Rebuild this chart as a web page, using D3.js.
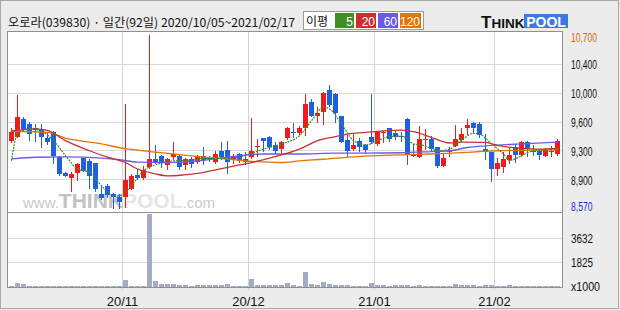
<!DOCTYPE html>
<html><head><meta charset="utf-8">
<script src="https://cdn.jsdelivr.net/npm/d3@7"></script>
<style>body{margin:0;background:#ececec;}svg{display:block}</style>
</head><body><svg id="c" width="620" height="310"></svg>
<script>
const title = "오로라(039830) · 일간(92일) 2020/10/05~2021/02/17";
const legendLabel = "이평";
const maPeriods = ["5","20","60","120"];
const monthIdx = [19, 40, 61, 81];
const monthLabels = ["20/11","20/12","21/01","21/02"];
const priceMin = 8570, priceMax = 10700;
const priceTickLabels = ["10,700","10,400","10,000","9,600","9,300","8,900","8,570"];
const volTickValues = [3632, 1825];
const volUnit = "x1000";

const opens  = [9400,9450,9670,9610,9550,9540,9430,9500,9200,9000,8940,9000,9190,9150,9120,8740,8840,8740,8710,8710,
  8810,8980,8940,9080,9170,9210,9100,9200,9210,9100,9170,9140,9210,9195,9140,9275,9285,9165,9235,9175,
  9195,9315,9430,9450,9345,9295,9430,9510,9495,9555,9870,9705,9750,10020,9970,9700,9405,9295,9400,9345,
  9450,9360,9495,9550,9495,9460,9665,9235,9200,9410,9420,9315,9090,9260,9335,9405,9555,9615,9605,9295,
  9255,9050,9070,9165,9315,9220,9385,9275,9275,9215,9255,9235];
const highs  = [9550,9960,9690,9630,9600,9600,9490,9520,9210,9010,9010,9130,9190,9170,9130,8840,8860,8760,8740,9850,
  8990,9050,9090,10700,9340,9220,9190,9380,9220,9190,9200,9220,9320,9215,9275,9380,9400,9235,9245,9255,
  9675,9420,9430,9460,9380,9400,9565,9615,9585,9975,9910,9810,9995,10080,9980,9705,9480,9480,9430,9360,
  9975,9520,9520,9560,9520,9500,9675,9360,9585,9540,9460,9325,9245,9315,9590,9550,9665,9625,9633,9480,
  9265,9180,9255,9305,9340,9400,9400,9345,9290,9305,9335,9420];
const lows   = [9380,9440,9520,9410,9390,9320,9360,9130,8980,8960,8780,8910,9020,8820,8780,8680,8700,8570,8570,8580,
  8800,8930,8930,9060,9120,9080,9050,9170,9050,9050,9080,9130,9110,9150,9130,9175,9000,9130,9140,9110,
  9190,9215,9275,9300,9245,9260,9420,9440,9480,9470,9700,9625,9610,9830,9630,9380,9195,9290,9275,9265,
  9370,9350,9380,9400,9420,9400,9110,9205,9195,9295,9290,9070,9085,9215,9330,9400,9480,9500,9440,9175,
  8905,8980,9015,9130,9140,9205,9215,9220,9175,9205,9215,9220];
const closes = [9500,9690,9540,9480,9530,9440,9380,9210,8990,8970,8990,9110,9030,8970,8800,8690,8730,8700,8640,8910,
  8970,8940,9040,9170,9130,9130,9170,9240,9080,9170,9110,9210,9165,9175,9235,9195,9140,9205,9150,9140,
  9275,9335,9400,9315,9275,9385,9550,9500,9550,9850,9705,9735,9985,9840,9735,9385,9275,9345,9315,9290,
  9380,9510,9510,9420,9450,9440,9220,9215,9420,9420,9295,9090,9180,9270,9420,9480,9590,9555,9470,9255,
  9050,9125,9175,9220,9220,9385,9305,9255,9220,9295,9275,9400];
const volumes = [100,320,200,80,80,80,80,80,80,80,80,80,80,80,80,80,80,80,80,540,
  80,80,80,5420,415,245,245,245,170,170,100,170,170,120,170,170,245,100,100,100,
  610,170,170,170,170,170,320,170,100,1080,245,170,390,245,170,170,170,100,100,100,
  320,170,170,100,170,170,170,100,170,100,100,100,100,100,245,170,170,170,100,170,
  170,100,100,170,100,100,100,100,100,100,100,100];

// moving averages: [day index, value]
const ma5 = [[0,9150],[1,9480],[3,9545],[5,9515],[7,9400],[9,9215],[11,9050],[13,9010],[15,8845],[17,8720],[18,8720],
  [20,8845],[22,9030],[24,9100],[27,9150],[29,9155],[31,9175],[34,9180],[37,9185],[39,9220],[42,9295],[45,9360],
  [48,9460],[50,9645],[52,9810],[53,9790],[55,9605],[57,9400],[59,9345],[61,9400],[63,9450],[65,9455],[67,9360],
  [69,9335],[71,9275],[73,9295],[75,9405],[77,9490],[78,9480],[80,9360],[82,9235],[83,9155],[85,9215],[87,9275],
  [89,9285],[91,9295]];
const ma20 = [[0,9520],[4,9545],[6,9525],[9,9400],[13,9275],[16,9195],[19,9130],[21,9050],[24,8990],[26,8965],
  [29,8980],[31,8995],[34,9040],[37,9085],[40,9130],[43,9185],[46,9245],[48,9295],[51,9400],[54,9450],[56,9480],
  [59,9500],[62,9520],[65,9530],[67,9510],[70,9440],[73,9370],[75,9380],[79,9378],[81,9340],[85,9305],[88,9295],[91,9305]];
const ma60 = [[0,9175],[4,9195],[9,9200],[15,9185],[18,9165],[21,9135],[26,9130],[31,9150],[37,9205],[42,9235],
  [48,9235],[54,9245],[59,9245],[65,9250],[70,9265],[73,9275],[76,9315],[79,9335],[85,9360],[91,9380]];
const ma120 = [[0,9515],[6,9500],[9,9430],[15,9360],[19,9300],[23,9265],[27,9235],[31,9205],[37,9165],[40,9145],
  [45,9130],[48,9150],[52,9170],[57,9200],[61,9215],[65,9225],[70,9235],[76,9255],[81,9275],[91,9285]];

const maColors = ["#3f8f22","#c83030","#6a5be0","#e27400"];
const upColor = "#f01c1c", downColor = "#1f5fe3", volColor = "#a3abc5";

const svg = d3.select("#c");
const N = closes.length;
const x = d3.scaleLinear().domain([0, N]).range([9, 561]);
const y = d3.scaleLinear().domain([priceMin, priceMax]).range([208, 35]);
const yv = d3.scaleLinear().domain([0, volTickValues[0]]).range([287, 238]);

// outer frame
svg.append("rect").attr("x",0.5).attr("y",0.5).attr("width",618).attr("height",308)
  .attr("fill","#ececec").attr("stroke","#a9a9a9");

// plot background
svg.append("rect").attr("x",7.5).attr("y",31.5).attr("width",555).attr("height",256)
  .attr("fill","#ffffff").attr("stroke","none");

const grid = svg.append("g").attr("shape-rendering","crispEdges");
const priceTicks = d3.range(7).map(k => priceMax - k*(priceMax-priceMin)/6);
priceTicks.slice(1,6).forEach(v => {
  grid.append("line").attr("x1",8).attr("x2",562).attr("y1",Math.round(y(v))+0.5).attr("y2",Math.round(y(v))+0.5)
    .attr("stroke","#d9d9d9");
});
volTickValues.forEach(v => {
  grid.append("line").attr("x1",8).attr("x2",562).attr("y1",Math.round(yv(v))+0.5).attr("y2",Math.round(yv(v))+0.5)
    .attr("stroke","#d9d9d9");
});
monthIdx.forEach(i => {
  grid.append("line").attr("x1",x(i)-0.5).attr("x2",x(i)-0.5).attr("y1",32).attr("y2",290).attr("stroke","#d4d4d4");
});

// watermark
const wm = svg.append("text").attr("x",23).attr("y",208).attr("font-family","Liberation Sans, Arial, sans-serif");
wm.append("tspan").attr("font-size",15).attr("fill","#cacaca").text("www.");
wm.append("tspan").attr("font-size",21).attr("font-weight","bold").attr("fill","#c2c2c2").text("THINK");
wm.append("tspan").attr("font-size",21).attr("font-weight","bold").attr("fill","#e6e6e6").text("POOL");
wm.append("tspan").attr("font-size",15).attr("fill","#cacaca").text(".com");

// candles
const cg = svg.append("g").attr("shape-rendering","crispEdges");
d3.range(N).forEach(i => {
  const up = closes[i] >= opens[i];
  const col = up ? upColor : downColor;
  cg.append("line").attr("x1",x(i)+2.5).attr("x2",x(i)+2.5)
    .attr("y1",Math.round(y(highs[i]))).attr("y2",Math.round(y(lows[i]))+1).attr("stroke",col);
  const t = Math.round(y(Math.max(opens[i],closes[i])));
  const b = Math.round(y(Math.min(opens[i],closes[i])));
  cg.append("rect").attr("x",x(i)).attr("y",t).attr("width",5).attr("height",Math.max(1,b-t)).attr("fill",col);
});

// volume bars
const vg = svg.append("g").attr("shape-rendering","crispEdges");
d3.range(N).forEach(i => {
  const t = Math.round(yv(volumes[i]));
  vg.append("rect").attr("x",x(i)).attr("y",Math.min(t,286)).attr("width",5).attr("height",Math.max(1,287-t))
    .attr("fill",volColor);
});

// moving averages
const line = d3.line().x(d => x(d[0])+2.5).y(d => y(d[1])).curve(d3.curveMonotoneX);
[ma120, ma60, ma20].forEach((m,k) => {
  svg.append("path").attr("d",line(m)).attr("fill","none").attr("stroke",maColors[3-k]).attr("stroke-width",1.3);
});
svg.append("path").attr("d",line(ma5)).attr("fill","none").attr("stroke",maColors[0])
  .attr("stroke-width",1.2).attr("stroke-dasharray","2,1");

// plot borders
const bg = svg.append("g").attr("shape-rendering","crispEdges").attr("fill","none").attr("stroke","#8f8f8f");
bg.append("rect").attr("x",7.5).attr("y",31.5).attr("width",555).attr("height",181);
bg.append("rect").attr("x",7.5).attr("y",212.5).attr("width",555).attr("height",75);

// price labels
const font = "Liberation Sans, Arial, sans-serif";
priceTickLabels.forEach((lab,k) => {
  const yy = Math.min(211, Math.max(42, y(priceTicks[k]) + 5.5));
  const nd = lab.replace(/,/g,"").length, nc = lab.length - nd;
  svg.append("text").attr("x",571).attr("y",yy).attr("font-family",font).attr("font-size",12)
    .attr("textLength", nd*4.5 + nc*3.4).attr("lengthAdjust","spacingAndGlyphs")
    .attr("fill", k===0 ? "#d0680e" : (k===6 ? "#1830d8" : "#111")).text(lab);
});
volTickValues.forEach(v => {
  svg.append("text").attr("x",571).attr("y",yv(v)+4.7).attr("font-family",font).attr("font-size",12.5)
    .attr("textLength",22).attr("lengthAdjust","spacingAndGlyphs").attr("fill","#111").text(String(v));
});
svg.append("text").attr("x",571).attr("y",290.5).attr("font-family",font).attr("font-size",12.5)
  .attr("textLength",29).attr("lengthAdjust","spacingAndGlyphs").attr("fill","#111").text(volUnit);

// month labels
monthIdx.forEach((i,k) => {
  svg.append("text").attr("x",x(i)-0.5).attr("y",306).attr("text-anchor","middle").attr("font-family",font)
    .attr("font-size",13).attr("fill","#111").text(monthLabels[k]);
});

// title
svg.append("text").attr("x",8).attr("y",26.5).attr("font-family","Noto Sans CJK KR, sans-serif").attr("font-size",12.2)
  .attr("fill","#111").text(title);

// legend
svg.append("rect").attr("x",303.5).attr("y",11.5).attr("width",120).attr("height",18).attr("fill","#fff").attr("stroke","#9a9a9a");
svg.append("text").attr("x",306).attr("y",25.5).attr("font-family","Noto Sans CJK KR, sans-serif").attr("font-size",12)
  .attr("fill","#111").text(legendLabel);
const bx = [335, 356, 378, 400], bw = [19, 20, 20, 21];
maPeriods.forEach((p,k) => {
  svg.append("rect").attr("x",bx[k]).attr("y",13).attr("width",bw[k]).attr("height",15).attr("fill",maColors[k]);
  svg.append("text").attr("x",bx[k]+bw[k]-1).attr("y",25.5).attr("text-anchor","end").attr("font-family",font)
    .attr("font-size",12).attr("fill","#fff").text(p);
});

// logo
const lg = svg.append("text").attr("x",481).attr("y",28).attr("font-family",font).attr("font-weight","bold").attr("fill","#111");
lg.append("tspan").attr("font-size",17).text("T");
lg.append("tspan").attr("font-size",13.5).text("HINK");
svg.append("rect").attr("x",524).attr("y",14).attr("width",44).attr("height",14).attr("fill","#3a7be2");
svg.append("text").attr("x",546).attr("y",27).attr("text-anchor","middle").attr("font-family",font)
  .attr("font-weight","bold").attr("font-size",14).attr("fill","#fff").text("POOL");
</script></body></html>
